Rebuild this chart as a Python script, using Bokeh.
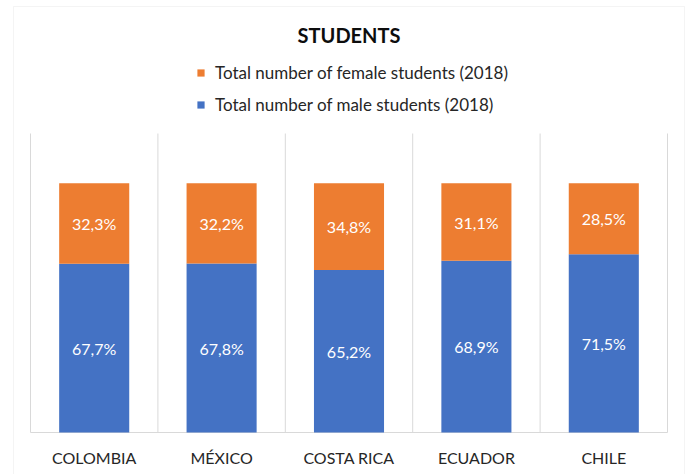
from bokeh.plotting import figure
from bokeh.models import ColumnDataSource, Legend, LegendItem, Range1d, Label, BoxAnnotation
from bokeh.core.properties import value
from bokeh.embed import file_html
from bokeh.resources import INLINE

categories = ["COLOMBIA", "MÉXICO", "COSTA RICA", "ECUADOR", "CHILE"]
male = [67.7, 67.8, 65.2, 68.9, 71.5]
female = [32.3, 32.2, 34.8, 31.1, 28.5]
series_names = ["Total number of female students (2018)", "Total number of male students (2018)"]
title_text = "STUDENTS"
y_max = 120

BLUE = "#4472C4"
ORANGE = "#ED7D31"
GRID = "#D9D9D9"
TEXT = "#262626"
FONT = "Lato"

# page layout (pixels)
W, H = 689, 474
PLOT_L, PLOT_R, PLOT_T, PLOT_B = 30, 667, 133, 432
n = len(categories)
ux = (PLOT_R - PLOT_L) / n
uy = (PLOT_B - PLOT_T) / y_max


def px_x(px):
    return (px - PLOT_L) / ux


def px_y(py):
    return (PLOT_B - py) / uy


xs = [i + 0.5 for i in range(n)]
total = [m + f for m, f in zip(male, female)]


def fmt(v):
    return f"{v:.1f}".replace(".", ",") + "%"


src = ColumnDataSource(dict(
    x=xs, male=male, female=female, total=total,
    male_mid=[m / 2 for m in male],
    female_mid=[m + f / 2 for m, f in zip(male, female)],
    male_lbl=[fmt(v) for v in male],
    female_lbl=[fmt(v) for v in female],
    cat=categories,
    cat_y=[px_y(456.5)] * n,
))

p = figure(
    title=None, frame_width=W, frame_height=H,
    x_range=Range1d(px_x(0), px_x(W)), y_range=Range1d(px_y(H), px_y(0)),
    output_backend="svg", toolbar_location=None,
    min_border=0, x_axis_location=None, y_axis_location=None,
)
p.outline_line_color = None
p.xgrid.visible = False
p.ygrid.visible = False
p.background_fill_color = "white"
p.border_fill_color = "white"

# outer chart border
p.add_layout(BoxAnnotation(left=px_x(13), right=px_x(684), top=px_y(6), bottom=px_y(H + 20),
                           fill_alpha=0, line_color=GRID, line_width=1))

# vertical category separators and baseline
bounds = list(range(n + 1))
p.segment(x0=bounds, y0=[0] * (n + 1), x1=bounds, y1=[y_max] * (n + 1),
          line_color=GRID, line_width=1)
p.segment(x0=[0], y0=[0], x1=[n], y1=[0], line_color=GRID, line_width=1)

r_m = p.vbar(x="x", bottom=0, top="male", width=0.55, source=src,
             fill_color=BLUE, line_color=None)
r_f = p.vbar(x="x", bottom="male", top="total", width=0.55, source=src,
             fill_color=ORANGE, line_color=None)

for col, lbl in (("male_mid", "male_lbl"), ("female_mid", "female_lbl")):
    p.text(x="x", y=col, text=lbl, source=src, text_color="white",
           text_align="center", text_baseline="middle",
           text_font=value(FONT), text_font_size="16px")

# category labels
p.text(x="x", y="cat_y", text="cat", source=src, text_color=TEXT,
       text_align="center", text_baseline="middle",
       text_font=value(FONT), text_font_size="16px")

legend = Legend(
    items=[LegendItem(label=series_names[0], renderers=[r_f]),
           LegendItem(label=series_names[1], renderers=[r_m])],
    orientation="vertical", location=(196, H - 115),
    glyph_width=9, glyph_height=9, label_height=22, spacing=10,
    label_standoff=10, padding=9, margin=0,
    label_text_font=FONT, label_text_font_size="17px", label_text_color=TEXT,
    border_line_color=None, background_fill_alpha=0,
)
p.add_layout(legend)

p.add_layout(Label(x=n / 2, y=px_y(34), text=title_text,
                   text_align="center", text_baseline="middle",
                   text_font=FONT, text_font_size="20px", text_font_style="bold",
                   text_color="#0D0D0D"))

open("out.html", "w").write(file_html(p, INLINE))
